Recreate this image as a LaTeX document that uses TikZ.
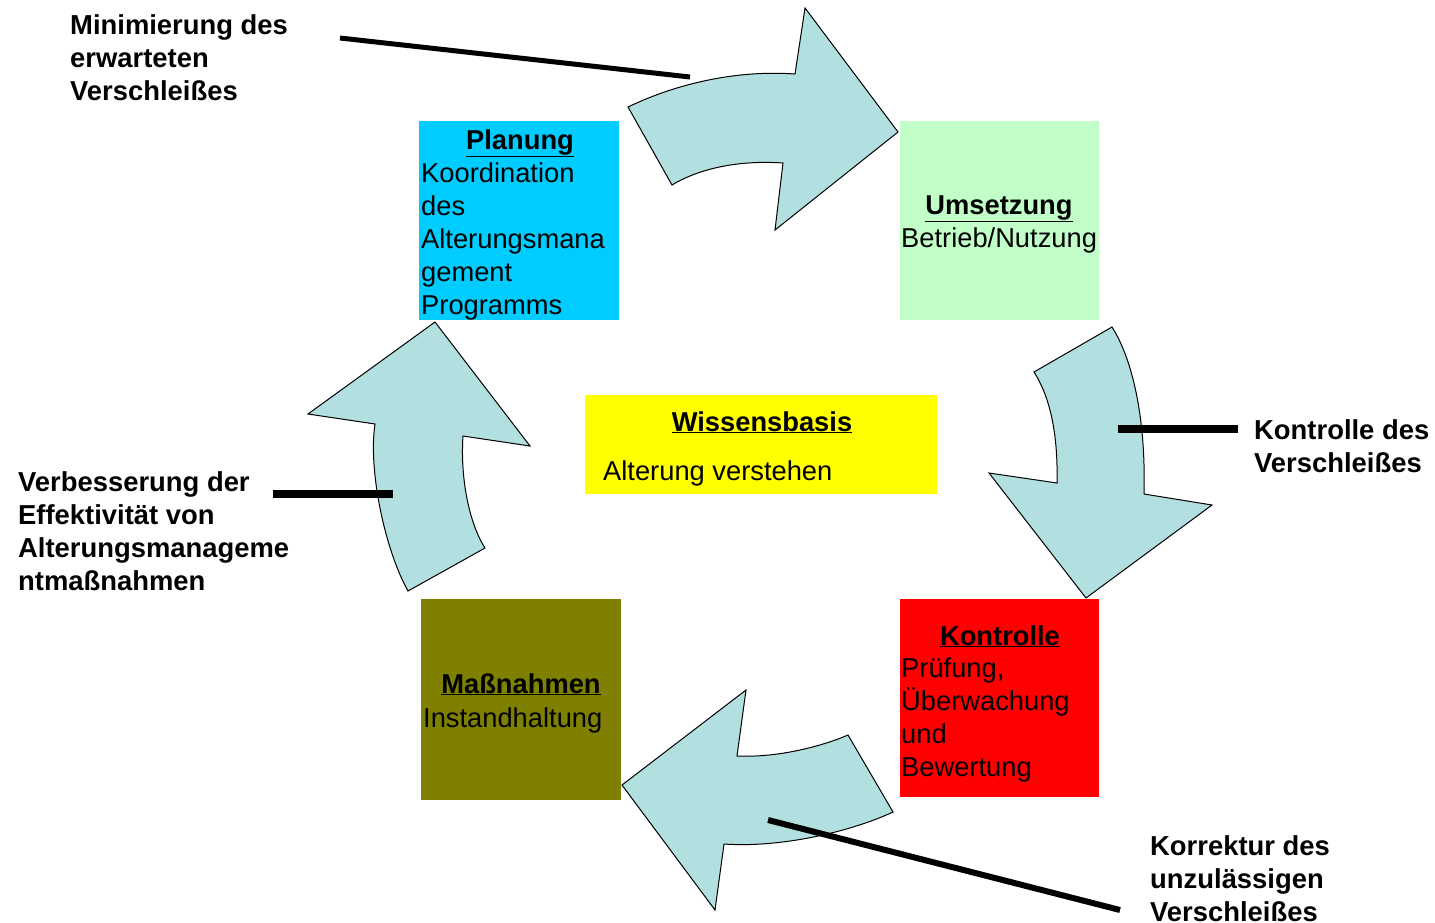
\documentclass[tikz,border=0pt]{standalone}
\usepackage{fontspec}
\setmainfont{Liberation Sans}
\definecolor{planc}{RGB}{0,204,255}
\definecolor{umsc}{RGB}{194,255,200}
\definecolor{kontc}{RGB}{255,0,0}
\definecolor{massc}{RGB}{128,128,0}
\definecolor{wissc}{RGB}{255,255,0}
\definecolor{arrowc}{RGB}{178,224,224}
\begin{document}
\begin{tikzpicture}[x=1pt,y=-1pt,
  box/.style={draw=none, inner sep=0, anchor=north west},
  txt/.style={inner sep=0, font=\fontsize{27.3}{33}\selectfont, align=left, anchor=base west},
  ttl/.style={inner sep=0, font=\fontsize{27.3}{33}\selectfont\bfseries, anchor=base},
  lbl/.style={inner sep=0, font=\fontsize{27.4}{33}\selectfont\bfseries, align=left, anchor=base west},
  bigarrow/.style={draw=black, line width=1pt, fill=arrowc, line join=miter},
  lead/.style={draw=black, line cap=butt}]
\useasboundingbox (0,0) rectangle (1435,922);

% boxes
\node[box, fill=planc, minimum width=200pt, minimum height=199pt] (plan) at (419,121) {};
\node[box, fill=umsc, minimum width=199pt, minimum height=199pt] (ums) at (900,121) {};
\node[box, fill=kontc, minimum width=199pt, minimum height=198pt] (kont) at (900,599) {};
\node[box, fill=massc, minimum width=200pt, minimum height=201pt] (mass) at (421,599) {};
\node[box, fill=wissc, minimum width=352pt, minimum height=99pt] (wiss) at (585,395) {};

% box texts (base anchor = baseline of the last line)
\node[ttl] (planT) at (520,149) {\underline{Planung}};
\node[txt] (planB) at (421,314) {Koordination\\des\\Alterungsmana\\gement\\Programms};
\node[ttl] (umsT) at (999,214) {\underline{Umsetzung}};
\node[txt] (umsB) at (901,247) {Betrieb/Nutzung};
\node[ttl] (kontT) at (1000,645) {\underline{Kontrolle}};
\node[txt] (kontB) at (901,776) {Prüfung,\\Überwachung\\und\\Bewertung};
\node[ttl] (massT) at (521,693) {\underline{Maßnahmen}};
\node[txt] (massB) at (423,727) {Instandhaltung};
\node[ttl] (wissT) at (762,431) {\underline{Wissensbasis}};
\node[txt] (wissB) at (603,480) {Alterung verstehen};

% curved arrows
\draw[bigarrow] (628,107) .. controls (680,82) and (740,70) .. (795,74) -- (805,8) -- (898,132) -- (775,230) -- (783,163) .. controls (740,160) and (700,168) .. (672,185) -- cycle;
\draw[bigarrow] (1034,372) -- (1112,327) .. controls (1133,360) and (1146,420) .. (1144,494) -- (1212,505) -- (1086,598) -- (989,473) -- (1057,483) .. controls (1058,440) and (1052,400) .. cycle;
\draw[bigarrow] (848,735) -- (893,812) .. controls (850,832) and (780,848) .. (724,844) -- (715,910) -- (622,785) -- (746,690) -- (737,756) .. controls (780,758) and (825,745) .. cycle;
\draw[bigarrow] (435,322) -- (530,446) -- (463,436) .. controls (460,480) and (470,525) .. (485,548) -- (408,591) .. controls (385,550) and (368,470) .. (375,424) -- (308,414) -- cycle;

% labels (base anchor = baseline of the last line)
\node[lbl] (lmin) at (70,100) {Minimierung des\\erwarteten\\Verschleißes};
\node[lbl] (lverb) at (18,590) {Verbesserung der\\Effektivität von\\Alterungsmanageme\\ntmaßnahmen};
\node[lbl] (lkon) at (1254,472) {Kontrolle des\\Verschleißes};
\node[lbl] (lkor) at (1150,921) {Korrektur des\\unzulässigen\\Verschleißes};

% leader lines
\coordinate (m1) at (340,38); \coordinate (m2) at (690,77);
\coordinate (k1) at (1238,429); \coordinate (k2) at (1118,429);
\coordinate (v1) at (273,494); \coordinate (v2) at (393,494);
\coordinate (r1) at (1120,910); \coordinate (r2) at (768,820);
\draw[lead, line width=5pt] (m1) -- (m2);
\draw[lead, line width=8pt] (k1) -- (k2);
\draw[lead, line width=8pt] (v1) -- (v2);
\draw[lead, line width=6pt] (r1) -- (r2);
\end{tikzpicture}
\end{document}
